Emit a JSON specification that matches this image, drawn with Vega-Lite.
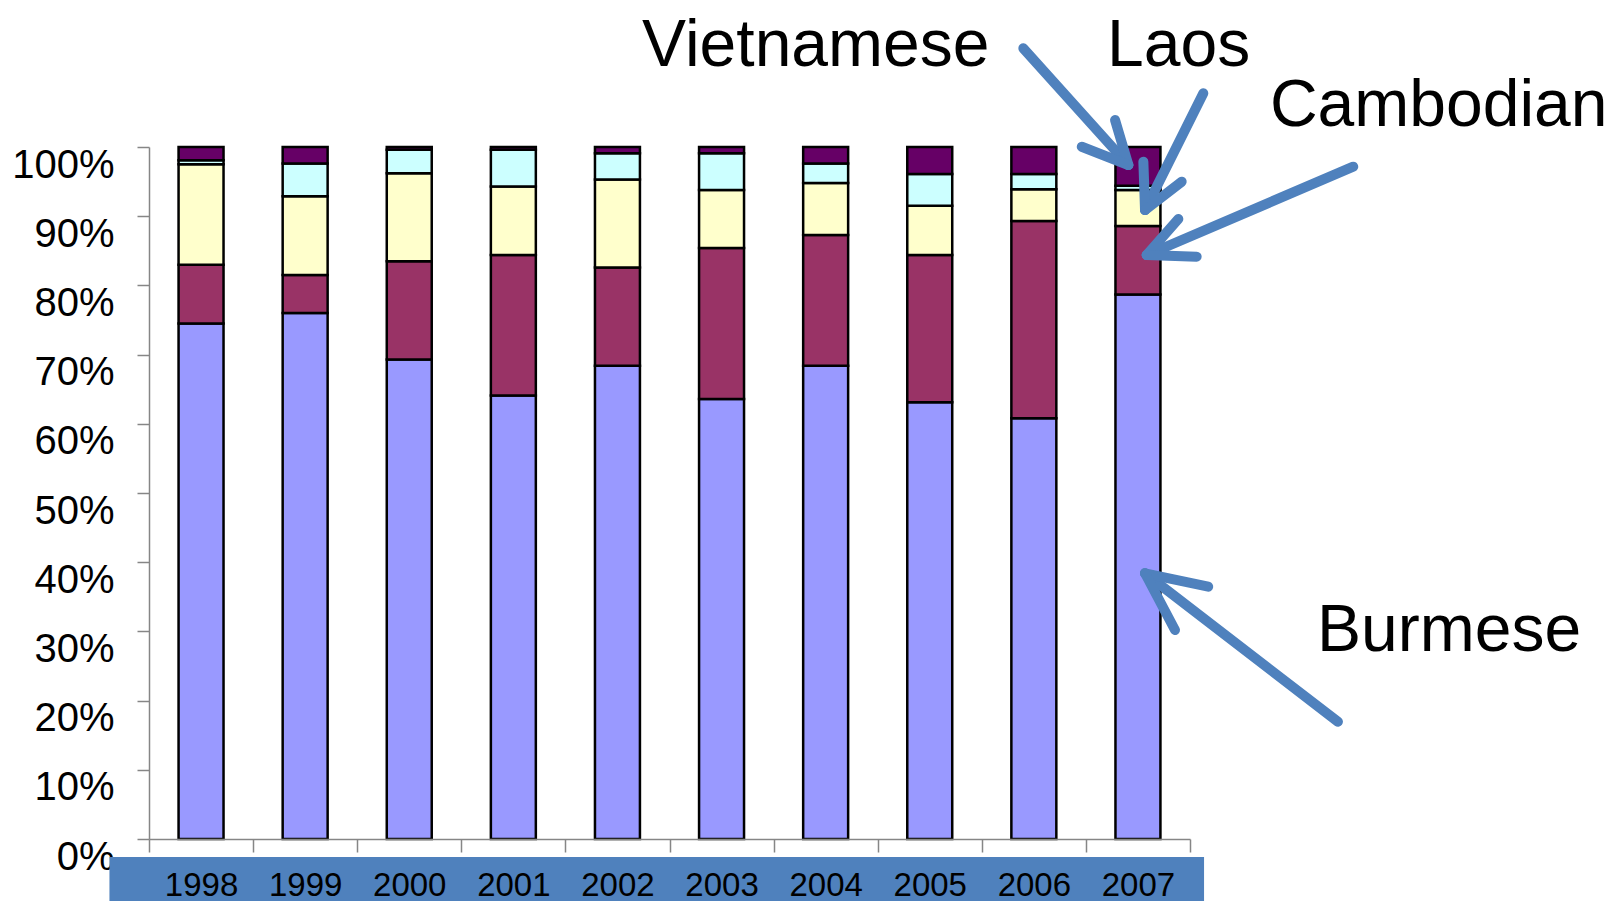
{
  "$schema": "https://vega.github.io/schema/vega-lite/v6.json",
  "autosize": {"type": "none"},
  "padding": {"left": 149, "top": 147, "right": 426, "bottom": 62},
  "width": 1041,
  "height": 692,
  "background": "white",
  "config": {
    "view": {"stroke": null},
    "font": "Liberation Sans"
  },
  "datasets": {
    "shares": [
      {"year": "1998", "group": "Burmese", "pct": 74.5},
      {"year": "1998", "group": "Cambodian", "pct": 8.5},
      {"year": "1998", "group": "Laos", "pct": 14.5},
      {"year": "1998", "group": "Other", "pct": 0.6},
      {"year": "1998", "group": "Vietnamese", "pct": 1.9},
      {"year": "1999", "group": "Burmese", "pct": 76.0},
      {"year": "1999", "group": "Cambodian", "pct": 5.5},
      {"year": "1999", "group": "Laos", "pct": 11.4},
      {"year": "1999", "group": "Other", "pct": 4.7},
      {"year": "1999", "group": "Vietnamese", "pct": 2.4},
      {"year": "2000", "group": "Burmese", "pct": 69.3},
      {"year": "2000", "group": "Cambodian", "pct": 14.2},
      {"year": "2000", "group": "Laos", "pct": 12.7},
      {"year": "2000", "group": "Other", "pct": 3.4},
      {"year": "2000", "group": "Vietnamese", "pct": 0.4},
      {"year": "2001", "group": "Burmese", "pct": 64.1},
      {"year": "2001", "group": "Cambodian", "pct": 20.3},
      {"year": "2001", "group": "Laos", "pct": 9.9},
      {"year": "2001", "group": "Other", "pct": 5.3},
      {"year": "2001", "group": "Vietnamese", "pct": 0.4},
      {"year": "2002", "group": "Burmese", "pct": 68.4},
      {"year": "2002", "group": "Cambodian", "pct": 14.2},
      {"year": "2002", "group": "Laos", "pct": 12.7},
      {"year": "2002", "group": "Other", "pct": 3.8},
      {"year": "2002", "group": "Vietnamese", "pct": 0.9},
      {"year": "2003", "group": "Burmese", "pct": 63.6},
      {"year": "2003", "group": "Cambodian", "pct": 21.8},
      {"year": "2003", "group": "Laos", "pct": 8.4},
      {"year": "2003", "group": "Other", "pct": 5.3},
      {"year": "2003", "group": "Vietnamese", "pct": 0.9},
      {"year": "2004", "group": "Burmese", "pct": 68.4},
      {"year": "2004", "group": "Cambodian", "pct": 18.9},
      {"year": "2004", "group": "Laos", "pct": 7.5},
      {"year": "2004", "group": "Other", "pct": 2.8},
      {"year": "2004", "group": "Vietnamese", "pct": 2.4},
      {"year": "2005", "group": "Burmese", "pct": 63.1},
      {"year": "2005", "group": "Cambodian", "pct": 21.3},
      {"year": "2005", "group": "Laos", "pct": 7.1},
      {"year": "2005", "group": "Other", "pct": 4.6},
      {"year": "2005", "group": "Vietnamese", "pct": 3.9},
      {"year": "2006", "group": "Burmese", "pct": 60.8},
      {"year": "2006", "group": "Cambodian", "pct": 28.5},
      {"year": "2006", "group": "Laos", "pct": 4.6},
      {"year": "2006", "group": "Other", "pct": 2.2},
      {"year": "2006", "group": "Vietnamese", "pct": 3.9},
      {"year": "2007", "group": "Burmese", "pct": 78.7},
      {"year": "2007", "group": "Cambodian", "pct": 9.9},
      {"year": "2007", "group": "Laos", "pct": 5.2},
      {"year": "2007", "group": "Other", "pct": 0.6},
      {"year": "2007", "group": "Vietnamese", "pct": 5.6}
    ],
    "labels": [
      {"label": "Vietnamese", "x": 4.737, "y": 1.1175},
      {"label": "Laos", "x": 9.203, "y": 1.117},
      {"label": "Cambodian", "x": 10.768, "y": 1.0303},
      {"label": "Burmese", "x": 11.22, "y": 0.2717}
    ],
    "arrows": [
      {"arrow": "Vietnamese", "part": "shaft", "x": 8.399, "y": 1.1426, "x2": 9.408, "y2": 0.974},
      {"arrow": "Vietnamese", "part": "wing", "x": 9.408, "y": 0.974, "x2": 9.28, "y2": 1.039},
      {"arrow": "Vietnamese", "part": "wing", "x": 9.408, "y": 0.974, "x2": 8.96, "y2": 1.0004},
      {"arrow": "Laos", "part": "shaft", "x": 10.128, "y": 1.0776, "x2": 9.568, "y2": 0.909},
      {"arrow": "Laos", "part": "wing", "x": 9.568, "y": 0.909, "x2": 9.552, "y2": 0.9788},
      {"arrow": "Laos", "part": "wing", "x": 9.568, "y": 0.909, "x2": 9.92, "y2": 0.9499},
      {"arrow": "Cambodian", "part": "shaft", "x": 11.568, "y": 0.9715, "x2": 9.584, "y2": 0.8439},
      {"arrow": "Cambodian", "part": "wing", "x": 9.584, "y": 0.8439, "x2": 9.888, "y2": 0.896},
      {"arrow": "Cambodian", "part": "wing", "x": 9.584, "y": 0.8439, "x2": 10.064, "y2": 0.8415},
      {"arrow": "Burmese", "part": "shaft", "x": 11.421, "y": 0.1695, "x2": 9.568, "y2": 0.384},
      {"arrow": "Burmese", "part": "wing", "x": 9.568, "y": 0.384, "x2": 10.175, "y2": 0.3646},
      {"arrow": "Burmese", "part": "wing", "x": 9.568, "y": 0.384, "x2": 9.856, "y2": 0.302}
    ]
  },
  "resolve": {"scale": {"x": "independent", "y": "independent"}},
  "layer": [
    {
      "data": {"values": [{"band": "x-axis"}]},
      "mark": {"type": "rect", "color": "#4F81BD"},
      "encoding": {
        "x": {"datum": -0.38, "type": "quantitative", "scale": {"domain": [0, 10], "nice": false, "zero": false}, "axis": null},
        "x2": {"datum": 10.135},
        "y": {"datum": -0.026, "type": "quantitative", "scale": {"domain": [0, 1], "nice": false, "zero": false}, "axis": null},
        "y2": {"datum": -0.095}
      }
    },
    {
      "data": {"name": "shares"},
      "mark": {"type": "bar", "stroke": "black", "strokeWidth": 2.5, "width": {"band": 0.432}},
      "encoding": {
        "x": {
          "field": "year", "type": "nominal",
          "scale": {"paddingInner": 0, "paddingOuter": 0},
          "axis": {
            "title": null, "labelAngle": 0, "labelFontSize": 33, "labelColor": "black",
            "labelBaseline": "alphabetic", "labelPadding": 43, "tickSize": 13,
            "tickBand": "extent", "domainColor": "#868686", "tickColor": "#868686",
            "domainWidth": 1.5, "tickWidth": 1.5, "zindex": 1, "labelFont": "Liberation Sans"
          }
        },
        "y": {
          "field": "pct", "type": "quantitative", "stack": "normalize",
          "scale": {"domain": [0, 1], "nice": false},
          "axis": {
            "title": null, "format": ".0%", "values": [0, 0.1, 0.2, 0.3, 0.4, 0.5, 0.6, 0.7, 0.8, 0.9, 1],
            "labelFontSize": 40, "labelColor": "black", "labelPadding": 23, "labelOffset": 18,
            "labelBaseline": "middle", "tickSize": 12, "grid": false,
            "domainColor": "#868686", "tickColor": "#868686", "domainWidth": 1.5, "tickWidth": 1.5,
            "labelFont": "Liberation Sans"
          }
        },
        "color": {
          "field": "group", "type": "nominal",
          "sort": ["Burmese", "Cambodian", "Laos", "Other", "Vietnamese"],
          "scale": {
            "domain": ["Burmese", "Cambodian", "Laos", "Other", "Vietnamese"],
            "range": ["#9999FF", "#993366", "#FFFFCC", "#CCFFFF", "#660066"]
          },
          "legend": null
        },
        "order": {"field": "group", "sort": "ascending"}
      }
    },
    {
      "data": {"name": "arrows"},
      "mark": {"type": "rule", "color": "#4F81BD", "strokeWidth": 10, "strokeCap": "round"},
      "encoding": {
        "x": {"field": "x", "type": "quantitative", "scale": {"domain": [0, 10], "nice": false, "zero": false}, "axis": null},
        "x2": {"field": "x2"},
        "y": {"field": "y", "type": "quantitative", "scale": {"domain": [0, 1], "nice": false, "zero": false}, "axis": null},
        "y2": {"field": "y2"}
      }
    },
    {
      "data": {"name": "labels"},
      "mark": {"type": "text", "align": "left", "baseline": "alphabetic", "fontSize": 66, "color": "black", "font": "Liberation Sans"},
      "encoding": {
        "x": {"field": "x", "type": "quantitative", "scale": {"domain": [0, 10], "nice": false, "zero": false}, "axis": null},
        "y": {"field": "y", "type": "quantitative", "scale": {"domain": [0, 1], "nice": false, "zero": false}, "axis": null},
        "text": {"field": "label"}
      }
    }
  ]
}
